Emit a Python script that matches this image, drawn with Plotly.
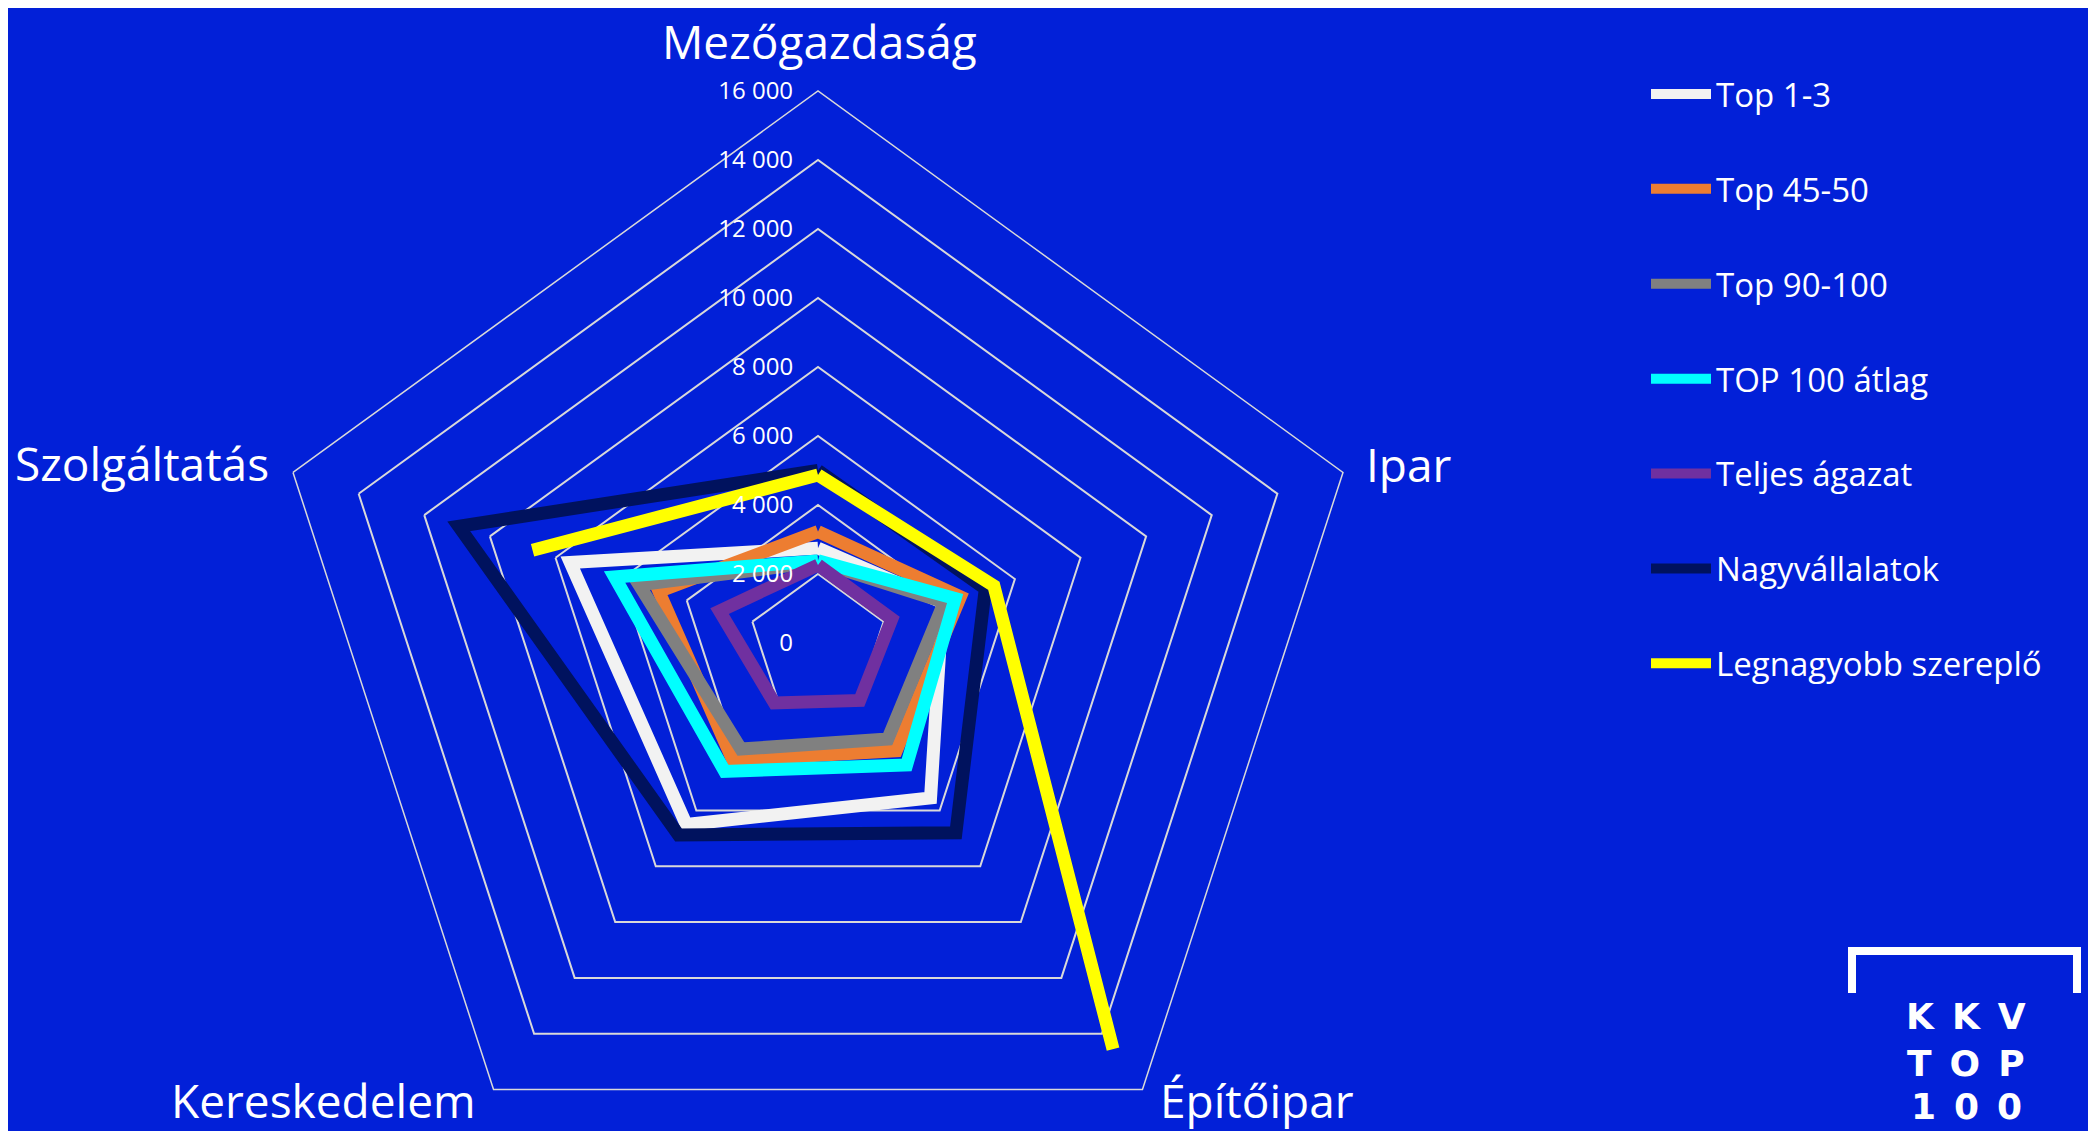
import plotly.graph_objects as go

# %%
categories = ["Mezőgazdaság", "Ipar", "Építőipar", "Kereskedelem", "Szolgáltatás"]

top_1_3 = [2750, 3800, 5550, 6500, 7550]
top_45_50 = [3230, 4340, 3860, 4200, 4850]
top_90_100 = [2350, 3850, 3440, 3800, 5450]
top100_atlag = [2380, 4180, 4370, 4600, 6200]
teljes_agazat = [2260, 2250, 2060, 2150, 3000]
nagyvallalatok = [5000, 5100, 6800, 6880, 10950]
legnagyobb = [4870, 5360, 14550, None, 8700]

series_names = ["Top 1-3", "Top 45-50", "Top 90-100", "TOP 100 átlag",
                "Teljes ágazat", "Nagyvállalatok", "Legnagyobb szereplő"]
series_values = [top_1_3, top_45_50, top_90_100, top100_atlag,
                 teljes_agazat, nagyvallalatok, legnagyobb]
series_colors = ["#F2F2F2", "#ED7D31", "#808080", "#00FFFF",
                 "#7030A0", "#00125E", "#FFFF00"]

tick_vals = list(range(0, 16001, 2000))
tick_text = [f"{v:,}".replace(",", " ") for v in tick_vals]

# %%
# page body has an 8px margin, so everything is placed 8px up/left
OFF = 8
W, H = 2096 - OFF, 1195 - OFF
BG = "#0220D8"
GRID = "#D9D9D9"
FONT = "Open Sans"

def px_x(x):
    return (x - OFF) / W

def px_y(y):
    return 1 - (y - OFF) / H

fig = go.Figure()
for name, vals, col in zip(series_names, series_values, series_colors):
    fig.add_trace(go.Scatterpolar(
        r=vals + vals[:1], theta=categories + categories[:1],
        mode="lines", name=name, legendgroup=name,
        line=dict(color=col, width=13), connectgaps=False,
    ))

fig.update_layout(
    width=W, height=H,
    margin=dict(l=0, r=0, t=0, b=0),
    paper_bgcolor=BG, plot_bgcolor=BG,
    font=dict(family=FONT, color="white"),
    polar=dict(
        domain=dict(x=[px_x(266), px_x(1370)], y=[px_y(1195), px_y(91)]),
        bgcolor="rgba(0,0,0,0)",
        gridshape="linear",
        angularaxis=dict(
            type="category", categoryarray=categories,
            direction="clockwise", rotation=90,
            showgrid=False, showline=True, linecolor=GRID, linewidth=1.5,
            ticks="", showticklabels=False,
        ),
        radialaxis=dict(
            range=[0, 16000], tickvals=tick_vals, ticktext=tick_text,
            angle=90, side="counterclockwise", tickangle=90, showline=False,
            gridcolor=GRID, gridwidth=1.5,
            ticks="outside", ticklen=16, tickcolor="rgba(0,0,0,0)",
            tickfont=dict(size=24, color="white", family=FONT),
        ),
    ),
    legend=dict(
        x=px_x(1646), y=px_y(66), xanchor="left", yanchor="top",
        font=dict(size=33, color="white", family=FONT),
        itemwidth=60, tracegroupgap=49, bgcolor="rgba(0,0,0,0)",
    ),
)

# category labels
label_pos = {
    "Mezőgazdaság": (819, 41, "center"),
    "Ipar": (1364, 464, "left"),
    "Építőipar": (1158, 1100, "left"),
    "Kereskedelem": (478, 1100, "right"),
    "Szolgáltatás": (271, 463, "right"),
}
for cat in categories:
    x, y, anchor = label_pos[cat]
    fig.add_annotation(text=cat, x=px_x(x), y=px_y(y), xref="paper", yref="paper",
                       showarrow=False, xanchor=anchor, yanchor="middle",
                       font=dict(size=46, color="white", family=FONT))

# logo
fig.add_shape(type="path", xref="paper", yref="paper",
              path=f"M {px_x(1852)},{px_y(993)} L {px_x(1852)},{px_y(951)} "
                   f"L {px_x(2077)},{px_y(951)} L {px_x(2077)},{px_y(993)}",
              line=dict(color="white", width=8))
for txt, yy in [("K\u2002K\u2002V", 1017), ("T\u2002O\u2002P", 1063), ("1\u20020\u20020", 1106)]:
    fig.add_annotation(text=txt, x=px_x(1966), y=px_y(yy), xref="paper", yref="paper",
                       showarrow=False, xanchor="center", yanchor="middle",
                       font=dict(size=36, color="white", family="DejaVu Sans", weight="bold"))

fig.write_html("out.html")
